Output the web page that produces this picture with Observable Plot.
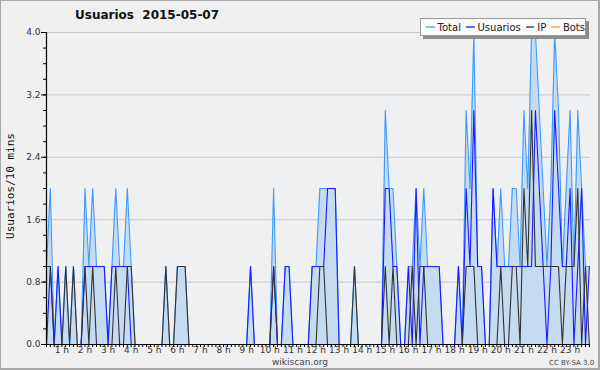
<!DOCTYPE html>
<html><head><meta charset="utf-8">
<script src="https://cdn.jsdelivr.net/npm/d3@7"></script>
<script src="https://cdn.jsdelivr.net/npm/@observablehq/plot@0.6"></script>
<style>
body{margin:0;background:#f0f0f0;}
#wrap{position:relative;width:600px;height:370px;overflow:hidden;font-family:"DejaVu Sans",sans-serif;background:#f0f0f0;}
#wrap svg{position:absolute;left:0;top:0;}
#border{position:absolute;left:0;top:0;width:597px;height:367px;border:1px solid #a8a8a8;border-right-width:2px;border-bottom-width:2px;pointer-events:none;}
#title{position:absolute;left:75px;top:8px;font-weight:bold;font-size:12px;color:#111;white-space:pre;}
#ytitle{position:absolute;left:10px;top:186px;transform:translate(-50%,-50%) rotate(-90deg);font-family:"DejaVu Sans Mono",monospace;font-size:11px;color:#111;white-space:nowrap;}
#legend{position:absolute;left:420px;top:18px;width:164px;height:16px;background:#fbfbfb;border:1px solid #9a9a9a;box-shadow:3px 3px 0 #8c8c8c;display:flex;align-items:center;font-size:10px;color:#222;white-space:nowrap;}
#legend svg.sw{position:static;display:inline-block;width:11px;height:4px;margin:0 3px 0 5px;}
#foot{position:absolute;left:0;width:600px;top:357px;text-align:center;font-size:9px;color:#444;}
#cc{position:absolute;left:549px;top:359px;font-size:7px;color:#444;}
</style></head>
<body>
<div id="wrap">
<div id="chart"></div>
<div id="title">Usuarios  2015-05-07</div>
<div id="ytitle">Usuarios/10 mins</div>
<div id="legend"></div>
<div id="foot">wikiscan.org</div>
<div id="cc">CC BY-SA 3.0</div>
<div id="border"></div>
</div>
<script>
// time slots: index of 10-minute interval of the day (2 = 00:20 ... 143 = 23:50)
const slots = d3.range(2, 144);
const total = [
1,2,0,1,0,1,0,1,0,0, 2,1,2,1,1,1,0,1,2,1, 1,2,1,0,0,0,0,0,0,0,
0,1,0,0,1,1,1,0,0,0, 0,0,0,0,0,0,0,0,0,0, 0,0,0,1,0,0,0,0,0,2,
0,0,1,1,0,0,0,0,0,1, 1,2,2,2,2,2,0,0,0,0, 1,0,0,0,0,0,0,0,3,2,
2,1,0,0,1,1,2,1,2,1, 1,1,1,0,0,0,0,1,0,3, 2,4,1,1,0,0,2,1,2,1,
1,2,2,1,3,2,4,4,3,2, 1,2,4,3,1,2,3,1,3,2, 1,1];
const usuarios = [
0,1,0,1,0,0,0,0,0,0, 1,1,1,1,1,1,0,1,1,1, 1,1,0,0,0,0,0,0,0,0,
0,0,0,0,0,0,0,0,0,0, 0,0,0,0,0,0,0,0,0,0, 0,0,0,1,0,0,0,0,0,1,
0,0,1,1,0,0,0,0,0,1, 1,1,1,2,2,2,0,0,0,0, 0,0,0,0,0,0,0,0,2,2,
1,1,0,0,1,0,2,0,1,1, 1,1,1,0,0,0,0,1,0,2, 1,3,1,1,0,0,2,1,1,1,
1,1,1,1,1,1,1,3,2,1, 0,1,3,2,1,1,2,0,1,2, 0,1];
const ip = [
1,1,0,0,0,1,0,1,0,0, 1,0,1,0,0,0,0,0,1,0, 0,1,1,0,0,0,0,0,0,0,
0,1,0,0,1,1,1,0,0,0, 0,0,0,0,0,0,0,0,0,0, 0,0,0,0,0,0,0,0,0,1,
0,0,0,0,0,0,0,0,0,0, 0,1,1,0,0,0,0,0,0,0, 1,0,0,0,0,0,0,0,1,0,
1,0,0,0,0,1,0,1,1,0, 0,0,0,0,0,0,0,0,0,1, 1,1,0,0,0,0,0,0,1,0,
0,1,1,0,2,1,3,1,1,1, 1,1,1,1,0,1,1,1,2,0, 1,0];
const bots = [
0,0,0,0,0,0,0,0,0,0, 0,0,0,0,0,0,0,0,0,0, 0,0,0,0,0,0,0,0,0,0,
0,0,0,0,0,0,0,0,0,0, 0,0,0,0,0,0,0,0,0,0, 0,0,0,0,0,0,0,0,0,0,
0,0,0,0,0,0,0,0,0,0, 0,0,0,0,0,0,0,0,0,0, 0,0,0,0,0,0,0,0,0,0,
0,0,0,0,0,0,0,0,0,0, 0,0,0,0,0,0,0,0,0,0, 0,0,0,0,0,0,0,0,0,0,
0,0,0,0,0,0,0,0,0,0, 0,0,0,0,0,0,0,0,0,0, 0,0];
const seriesNames = ["Total", "Usuarios", "IP", "Bots"];
const seriesColors = ["#3d9bff", "#1a1aff", "#333333", "#ffa500"];
const hourSlots = [6,12,18,24,30,36,42,48,54,60,66,72,78,84,90,96,102,108,114,120,126,132,138];
const hourLabels = ["1 h","2 h","3 h","4 h","5 h","6 h","7 h","8 h","9 h","10 h","11 h","12 h","13 h","14 h","15 h","16 h","17 h","18 h","19 h","20 h","21 h","22 h","23 h"];
const yLabelTicks = [0, 0.8, 1.6, 2.4, 3.2, 4.0];
const yMinorTicks = [0,0.2,0.4,0.6,0.8,1.0,1.2,1.4,1.6,1.8,2.0,2.2,2.4,2.6,2.8,3.0,3.2,3.4,3.6,3.8,4.0];

// legend
const leg = document.getElementById("legend");
seriesNames.forEach((n, i) => {
  const s = document.createElementNS("http://www.w3.org/2000/svg", "svg");
  s.setAttribute("class", "sw");
  s.setAttribute("width", 11); s.setAttribute("height", 4);
  s.innerHTML = `<line x1="0" x2="11" y1="2" y2="2" stroke="${seriesColors[i]}" stroke-width="1.3"/>`;
  leg.appendChild(s);
  leg.appendChild(document.createTextNode(n));
});

const data = slots.map((k, i) => ({k, total: total[i], usuarios: usuarios[i], ip: ip[i], bots: bots[i]}));

const chart = Plot.plot({
  width: 600, height: 370,
  marginLeft: 46, marginRight: 10, marginTop: 32, marginBottom: 26,
  style: {background: "transparent", fontFamily: "DejaVu Sans, sans-serif", fontSize: "9px", color: "#222"},
  x: {domain: [2, 143.3], axis: null},
  y: {domain: [0, 4], axis: null},
  marks: [
    Plot.frame({fill: "#eef0f2", stroke: null}),
    Plot.ruleY(yLabelTicks.filter(v => v > 0), {stroke: "#c8c8c8", strokeWidth: 1}),
    Plot.areaY(data, {x: "k", y: "total", fill: "#c4dbf0"}),
    Plot.lineY(data, {x: "k", y: "bots", stroke: seriesColors[3], strokeWidth: 1}),
    Plot.lineY(data, {x: "k", y: "total", stroke: seriesColors[0], strokeWidth: 1.1}),
    Plot.lineY(data, {x: "k", y: "usuarios", stroke: seriesColors[1], strokeWidth: 1.1}),
    Plot.lineY(data, {x: "k", y: "ip", stroke: seriesColors[2], strokeWidth: 1.1}),
    Plot.axisY({ticks: yMinorTicks, tickSize: 3, text: null, stroke: "#000", label: null}),
    Plot.axisY({ticks: yLabelTicks, tickSize: 5, tickPadding: 1, tickFormat: d => d.toFixed(1), stroke: "#000", fill: "#333", label: null}),
    Plot.axisX({ticks: slots, tickSize: 3, text: null, stroke: "#000", label: null}),
    Plot.axisX({ticks: hourSlots, tickSize: 0, tickPadding: 2, tickFormat: d => hourLabels[hourSlots.indexOf(d)], fill: "#333", label: null}),
    Plot.ruleX([2], {stroke: "#000", strokeWidth: 1.2}),
    Plot.ruleY([0], {stroke: "#000", strokeWidth: 1.2})
  ]
});
document.getElementById("chart").appendChild(chart);
</script>
</body></html>
